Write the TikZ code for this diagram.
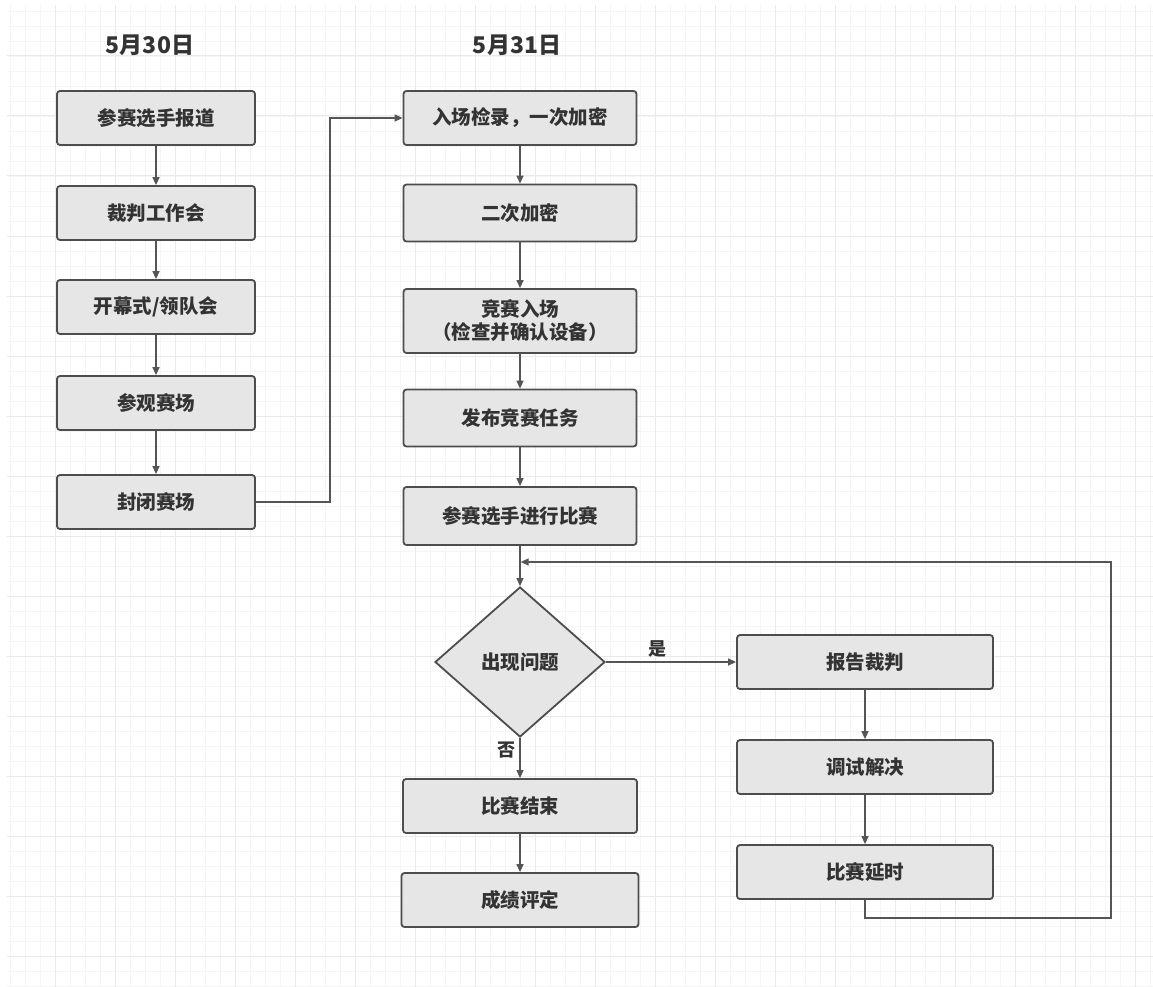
\documentclass[tikz,border=0pt]{standalone}
\usepackage{fontspec}
\setmainfont{Noto Sans CJK SC}
\usetikzlibrary{shapes.geometric,arrows.meta}
\definecolor{boxfill}{HTML}{E6E6E6}
\definecolor{boxdraw}{HTML}{4D4D4D}
\definecolor{txt}{HTML}{333333}
\definecolor{linec}{HTML}{555555}
\definecolor{gridminor}{HTML}{F5F5F5}
\definecolor{gridmajor}{HTML}{EAEAEA}
\tikzset{
  stepbox/.style={draw=boxdraw, fill=boxfill, line width=1.8pt, rounded corners=3pt,
    minimum width=#1, minimum height=54pt, inner sep=0pt, align=center,
    font=\fontsize{19.5}{23}\selectfont\bfseries, text=txt},
  stepbox/.default=198pt,
  decision/.style={draw=boxdraw, fill=boxfill, line width=1.8pt, diamond, aspect=1.13,
    minimum width=170pt, minimum height=150pt, inner sep=0pt,
    font=\fontsize{19.5}{23}\selectfont\bfseries, text=txt},
  title/.style={font=\fontsize{23}{27}\selectfont\bfseries, text=txt},
  lab/.style={font=\fontsize{18}{21}\selectfont\bfseries, text=txt},
  conn/.style={draw=linec, line width=1.3pt, -{Triangle[length=8pt,width=7pt]}},
  plain/.style={draw=linec, line width=1.3pt}
}
\begin{document}
\begin{tikzpicture}[x=1pt,y=-1pt]
\useasboundingbox (0,0) rectangle (1153,987);
\fill[white] (0,0) rectangle (1153,987);
% grid
\foreach \x in {10,25,...,1150} \draw[gridminor, line width=0.8pt] (\x,5) -- (\x,987);
\foreach \y in {11,26,...,987} \draw[gridminor, line width=0.8pt] (7,\y) -- (1153,\y);
\foreach \x in {55,115,...,1150} \draw[gridmajor, line width=1pt] (\x,5) -- (\x,987);
\foreach \y in {56,116,...,987} \draw[gridmajor, line width=1pt] (7,\y) -- (1153,\y);

% titles
\node[title] (t1) at (150,45) {5月30日};
\node[title] (t2) at (517,45) {5月31日};

% left column
\node[stepbox] (a1) at (156,118) {参赛选手报道};
\node[stepbox] (a2) at (156,213) {裁判工作会};
\node[stepbox] (a3) at (156,307) {开幕式/领队会};
\node[stepbox] (a4) at (156,403) {参观赛场};
\node[stepbox] (a5) at (156,502) {封闭赛场};

% middle column
\node[stepbox=233pt] (b1) at (520,118) {入场检录，一次加密};
\node[stepbox=233pt, minimum height=57pt] (b2) at (520,213) {二次加密};
\node[stepbox=233pt, minimum height=64pt] (b3) at (520,321) {竞赛入场\\（检查并确认设备）};
\node[stepbox=233pt, minimum height=57pt] (b4) at (520,418) {发布竞赛任务};
\node[stepbox=233pt, minimum height=58pt] (b5) at (520,516) {参赛选手进行比赛};
\node[decision] (d) at (520,662) {出现问题};
\node[stepbox=234pt] (c1) at (520,806) {比赛结束};
\node[stepbox=237pt] (c2) at (520,900) {成绩评定};

% right column
\node[stepbox=256pt] (r1) at (865,662) {报告裁判};
\node[stepbox=256pt] (r2) at (865,767) {调试解决};
\node[stepbox=256pt] (r3) at (865,872) {比赛延时};

\coordinate (j) at (520,562);

% connectors
\draw[conn] (a1) -- (a2);
\draw[conn] (a2) -- (a3);
\draw[conn] (a3) -- (a4);
\draw[conn] (a4) -- (a5);
\draw[conn] (a5.east) -- (330,502) |- (b1.west);
\draw[conn] (b1) -- (b2);
\draw[conn] (b2) -- (b3);
\draw[conn] (b3) -- (b4);
\draw[conn] (b4) -- (b5);
\draw[conn] (b5) -- (d);
\draw[conn] (d) -- node[lab, pos=0.3, left=1pt] {否} (c1);
\draw[conn] (c1) -- (c2);
\draw[conn] (d.east) -- node[lab, pos=0.4, above=1pt] {是} (r1.west);
\draw[conn] (r1) -- (r2);
\draw[conn] (r2) -- (r3);
\draw[conn] (r3.south) -- (865,918) -- (1111,918) -- (1111,562) -- ([xshift=0.6pt]j);
\end{tikzpicture}
\end{document}
